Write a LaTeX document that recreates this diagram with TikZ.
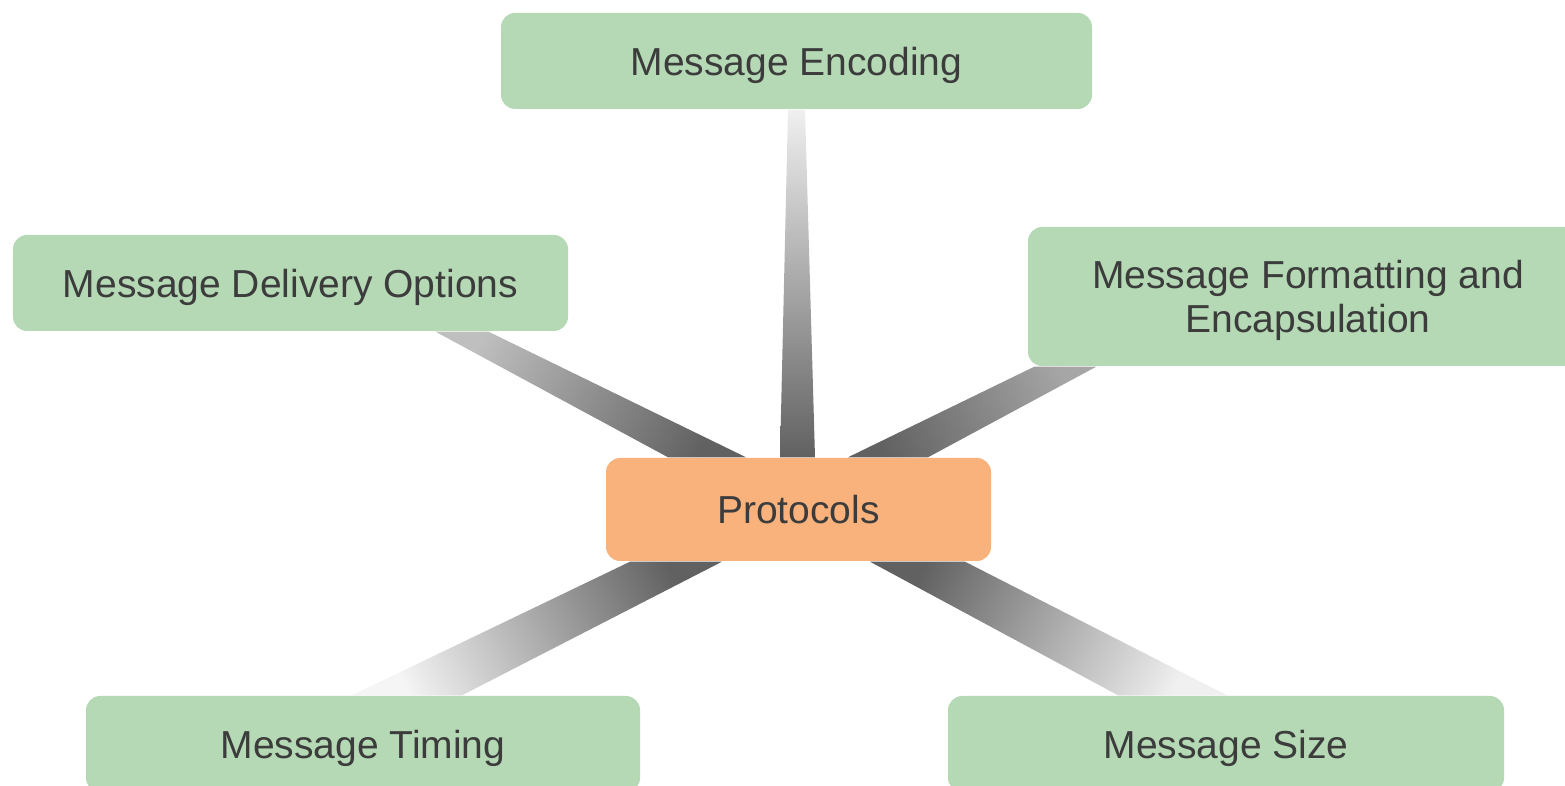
\documentclass[tikz,border=0pt]{standalone}
\usepackage{fontspec}
\setmainfont{Liberation Sans}
\usetikzlibrary{positioning, calc, backgrounds}
\definecolor{topicgreen}{RGB}{180, 217, 180}
\definecolor{huborange}{RGB}{249, 178, 123}
\definecolor{labelgray}{RGB}{60, 60, 60}

\begin{document}
\begin{tikzpicture}[
  topicbox/.style={fill=topicgreen, rounded corners=4pt, minimum height=0.96cm, inner sep=0pt, text depth=0pt, align=center, text=labelgray, font=\fontsize{11.1}{12.4}\selectfont},
  hubbox/.style={topicbox, fill=huborange, minimum width=3.85cm, minimum height=1.03cm},
  spoke/.style={top color=#1, bottom color=black!62}
]
  \useasboundingbox (0,0) rectangle (15.65,7.86);
  \clip (0,0) rectangle (15.65,7.86);

  \node[hubbox] (proto) at (7.985, 2.765) {Protocols};
  \node[topicbox, minimum width=5.91cm] (encoding) at (7.965, 7.25) {Message Encoding};
  \node[topicbox, minimum width=5.55cm] (delivery) at (2.905, 5.03) {Message Delivery Options};
  \node[topicbox, minimum width=5.6cm, minimum height=1.39cm] (formatting) at (13.08, 4.895) {Message Formatting and\\Encapsulation};
  \node[topicbox, minimum width=5.54cm] (timing) at (3.63, 0.42) {Message Timing};
  \node[topicbox, minimum width=5.56cm] (size) at (12.26, 0.42) {Message Size};

  \begin{scope}[on background layer]
    % spokes, light at the topic end, dark at the hub
    \shade[spoke=black!6] ($(encoding.south)+(-0.085,0)$) -- ($(encoding.south)+(0.085,0)$)
      -- ($(proto.north)+(0.165,0)$) -- ($(proto.north)+(-0.185,0)$) -- cycle;
    \shade[spoke=black!25, shading angle=63] ($(delivery.south)+(1.45,0)$) -- ($(delivery.south)+(1.98,0)$)
      -- ($(proto.north)+(-0.525,0)$) -- ($(proto.north)+(-1.305,0)$) -- cycle;
    \shade[spoke=black!35, shading angle=-64] ($(formatting.south west)+(0.07,0)$) -- ($(formatting.south west)+(0.69,0)$)
      -- ($(proto.north)+(1.295,0)$) -- ($(proto.north)+(0.495,0)$) -- cycle;
    \shade[spoke=black!4, shading angle=117] ($(timing.north)+(-0.11,0)$) -- ($(timing.north)+(0.99,0)$)
      -- ($(proto.south)+(-0.765,0)$) -- ($(proto.south)+(-1.685,0)$) -- cycle;
    \shade[spoke=black!6, shading angle=-118] ($(size.north)+(-1.08,0)$) -- ($(size.north)+(0.01,0)$)
      -- ($(proto.south)+(1.665,0)$) -- ($(proto.south)+(0.715,0)$) -- cycle;
  \end{scope}
\end{tikzpicture}
\end{document}
